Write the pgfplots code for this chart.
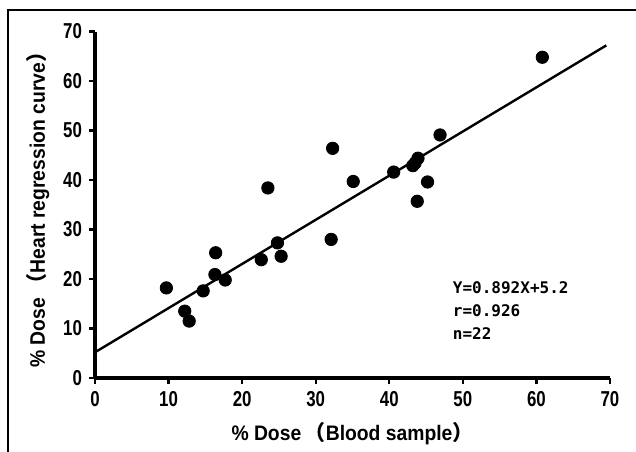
\documentclass[border=0pt]{standalone}
\usepackage{fontspec}
\setmainfont{Liberation Sans}
\newfontfamily\tickfont{Liberation Sans}[FakeStretch=0.78]
\newfontfamily\labfont{Liberation Sans}[FakeStretch=0.92]
\newfontfamily\annfont{DejaVu Sans Mono}
\newfontfamily\cjk{Noto Sans CJK JP}
\usepackage{pgfplots}
\pgfplotsset{compat=1.18}
\begin{document}
\begin{tikzpicture}
\useasboundingbox (0,0) rectangle (318bp,226bp);
\draw[line width=1bp] (4bp,0) -- (4bp,221bp) -- (318bp,221bp);
\begin{axis}[
  at={(47.5bp,37bp)}, anchor=south west,
  scale only axis, width=257.5bp, height=173.25bp,
  xmin=0, xmax=70, ymin=0, ymax=70,
  axis x line=bottom, axis y line=left,
  axis line style={-},
  every outer x axis line/.append style={line width=2.2bp},
  every outer y axis line/.append style={line width=2.2bp},
  xtick={0,10,...,70}, ytick={0,10,...,70},
  tick align=outside, major tick length=3bp,
  tick style={line width=1.1bp, black},
  tick label style={font=\tickfont\bfseries\fontsize{10.8bp}{12bp}\selectfont},
  /pgf/number format/assume math mode=true,
  xlabel={\labfont\bfseries\fontsize{10.5bp}{12bp}\selectfont \% Dose\,{\cjk\bfseries （}Blood sample{\cjk\bfseries ）}},
  ylabel={\labfont\bfseries\fontsize{10.5bp}{12bp}\selectfont \% Dose\,{\cjk\bfseries （}Heart regression curve{\cjk\bfseries ）}},
  every axis x label/.style={at={(axis description cs:0.5,-0.1616)}, anchor=center},
  every axis y label/.style={at={(axis description cs:-0.1107,0.5)}, anchor=center, rotate=90},
  clip=false,
]
\addplot[black, line width=1.2bp] coordinates {(0,5.2) (69.5,67.2)};
\addplot[only marks, mark=*, mark size=3.1bp, black] coordinates {
(9.7,18.2) (12.2,13.5) (12.8,11.5) (14.7,17.6) (16.4,25.3) (16.3,20.9)
(17.7,19.8) (22.6,23.9) (24.8,27.3) (25.3,24.6) (23.5,38.4) (32.3,46.4)
(32.1,28.0) (35.1,39.7) (40.6,41.6) (43.2,42.9) (43.9,44.4) (43.5,43.4)
(43.8,35.7) (45.2,39.6) (46.9,49.1) (60.8,64.8)
};
\node[anchor=west, align=left, font=\annfont\bfseries\fontsize{8bp}{11.5bp}\selectfont, inner sep=0pt] at (axis cs:48.6,13.7) {Y=0.892X+5.2\\r=0.926\\n=22};
\end{axis}
\end{tikzpicture}
\end{document}
